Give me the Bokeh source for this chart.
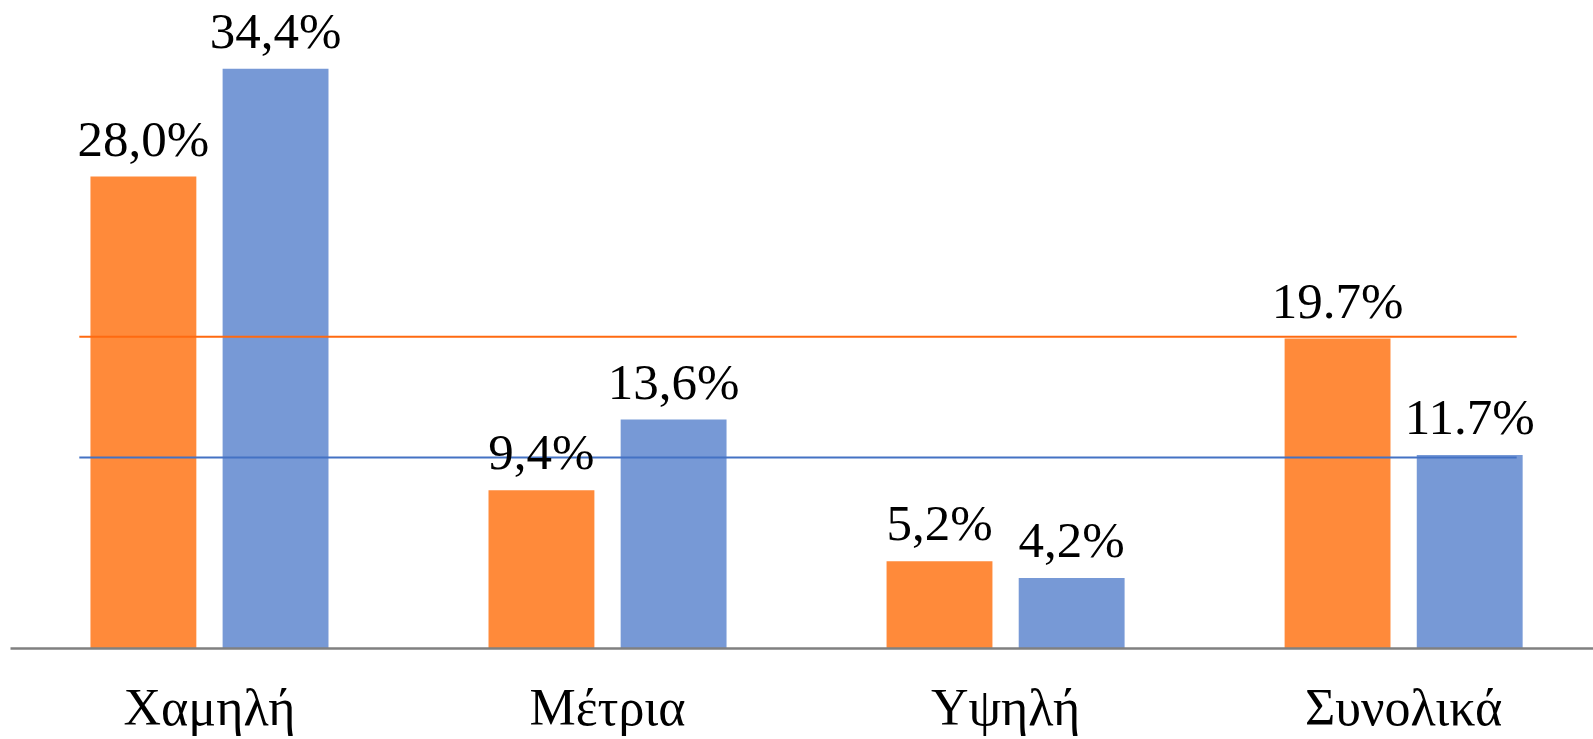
from bokeh.plotting import figure
from bokeh.models import Range1d, FixedTicker, ColumnDataSource
from bokeh.core.properties import value
from bokeh.embed import file_html
from bokeh.resources import INLINE

# ---- data ----
categories = ["Χαμηλή", "Μέτρια", "Υψηλή", "Συνολικά"]
orange_values = [28.0, 9.4, 5.2, 18.4]
blue_values = [34.4, 13.6, 4.2, 11.5]
orange_labels = ["28,0%", "9,4%", "5,2%", "19.7%"]
blue_labels = ["34,4%", "13,6%", "4,2%", "11.7%"]
orange_average = 18.5
blue_average = 11.35

# ---- style ----
ORANGE = "#FF8A3A"
BLUE = "#7799D6"
ORANGE_LINE = "#FF6A10"
BLUE_LINE = "#4472C4"
FONT = "Liberation Serif"
BAR_W = 0.266
OFFSET = 0.166

idx = list(range(len(categories)))

p = figure(width=1593, height=739, output_backend="svg", toolbar_location=None,
           x_range=Range1d(-0.525, 3.477), y_range=Range1d(-5.37, 38.44),
           y_axis_location=None, min_border_left=0, min_border_right=0,
           min_border_top=0, min_border_bottom=0)
p.outline_line_color = None
p.xgrid.visible = False
p.ygrid.visible = False

src_o = ColumnDataSource(dict(x=[i - OFFSET for i in idx], top=orange_values, label=orange_labels))
src_b = ColumnDataSource(dict(x=[i + OFFSET for i in idx], top=blue_values, label=blue_labels))

p.vbar(x="x", top="top", bottom=0, width=BAR_W, source=src_o, fill_color=ORANGE, line_color=None)
p.vbar(x="x", top="top", bottom=0, width=BAR_W, source=src_b, fill_color=BLUE, line_color=None)

# average lines
x0 = idx[0] - 0.327
x1 = idx[-1] + 0.284
p.segment(x0=[x0], x1=[x1], y0=[orange_average], y1=[orange_average], line_color=ORANGE_LINE, line_width=2)
p.segment(x0=[x0], x1=[x1], y0=[blue_average], y1=[blue_average], line_color=BLUE_LINE, line_width=2)

for src in (src_o, src_b):
    p.text(x="x", y="top", text="label", source=src, text_align="center",
           text_baseline="alphabetic", y_offset=-38, text_font=value(FONT),
           text_font_size="51px", text_color="black")

ax = p.xaxis[0]
ax.fixed_location = 0
ax.bounds = (-0.5, 3.477)
ax.ticker = FixedTicker(ticks=idx)
ax.major_label_overrides = {i: c for i, c in zip(idx, categories)}
ax.major_tick_line_color = None
ax.minor_tick_line_color = None
ax.major_tick_out = 0
ax.major_tick_in = 0
ax.axis_line_color = "#808080"
ax.axis_line_width = 2.5
ax.major_label_text_font = FONT
ax.major_label_text_font_size = "52px"
ax.major_label_text_color = "black"
ax.major_label_standoff = 30

open("out.html", "w").write(file_html(p, INLINE))
